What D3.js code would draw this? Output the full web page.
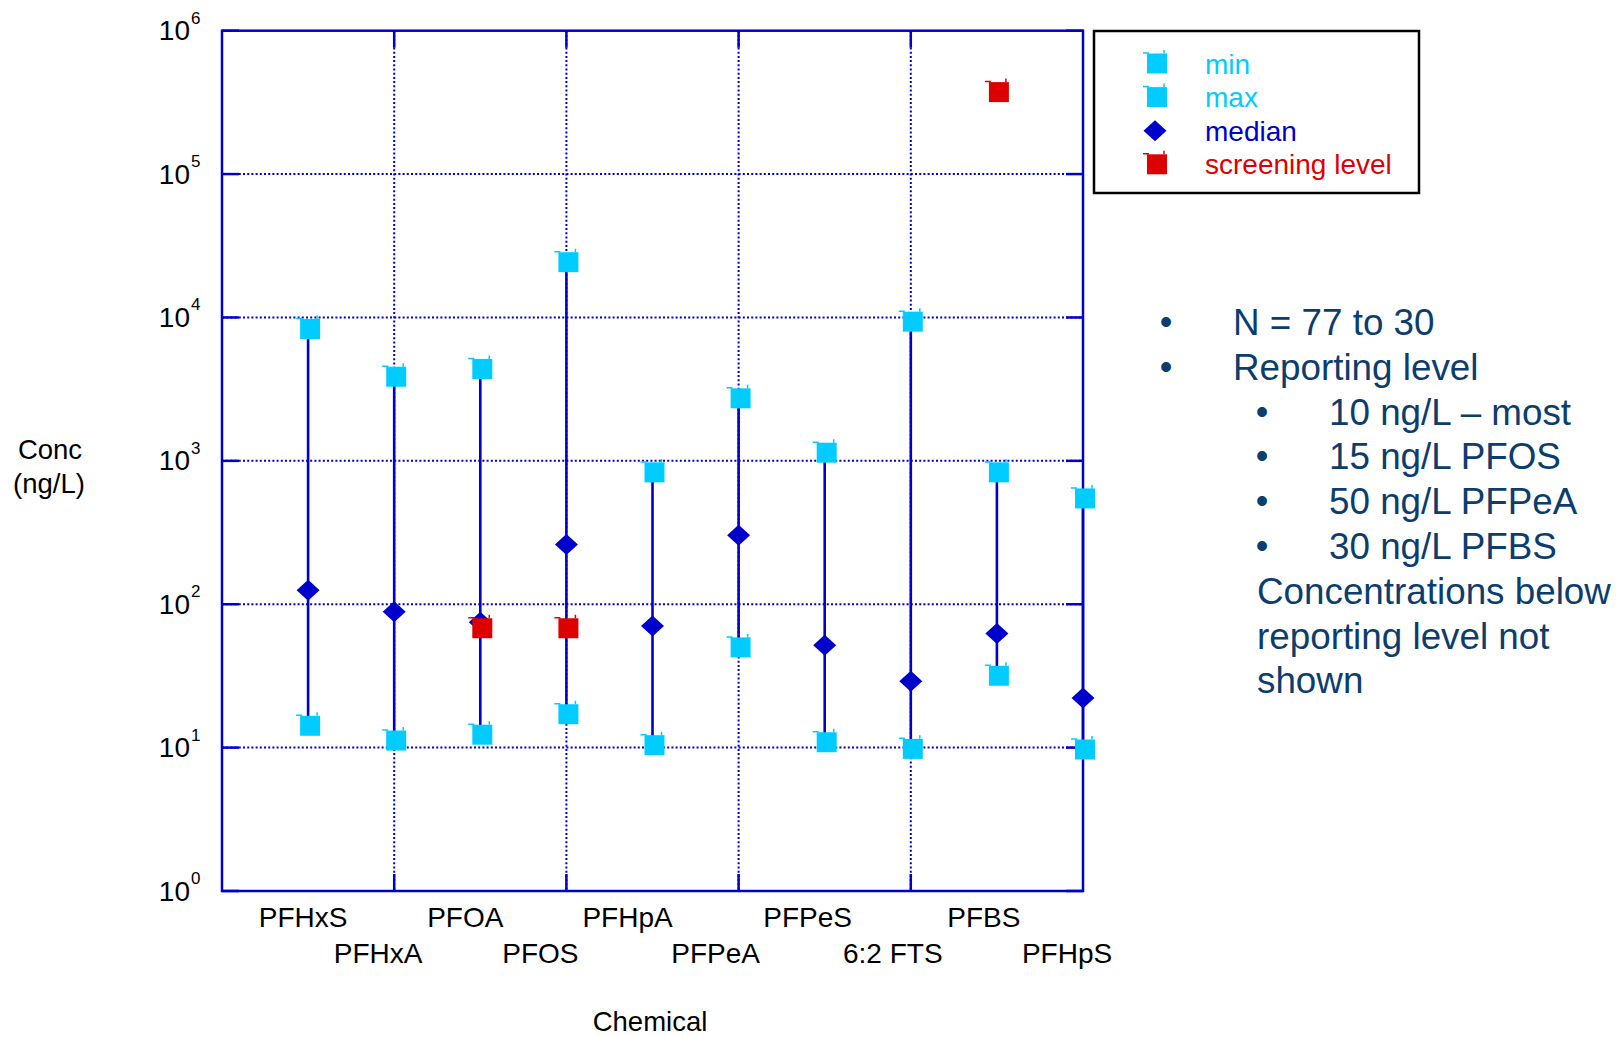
<!DOCTYPE html>
<html>
<head>
<meta charset="utf-8">
<script src="https://cdn.jsdelivr.net/npm/d3@7"></script>
<style>
  body { margin: 0; background: #fff; }
  text { font-family: 'Liberation Sans', Arial, sans-serif; }
</style>
</head>
<body>
<svg width="1618" height="1037"></svg>
<script>
const chemicals = ['PFHxS', 'PFHxA', 'PFOA', 'PFOS', 'PFHpA', 'PFPeA', 'PFPeS', '6:2 FTS', 'PFBS', 'PFHpS'];
const minValues = [14.2, 11.2, 12.3, 17.1, 10.4, 50, 10.9, 9.8, 31.7, 9.7];
const maxValues = [8310, 3860, 4370, 24300, 831, 2730, 1140, 9350, 831, 547];
const medianValues = [125, 88.5, 75, 261, 70.4, 303, 51.8, 29, 62.5, 22.2];
const screeningValues = [null, null, 68, 68, null, null, null, null, 373000, null];
const yTickValues = [1, 10, 100, 1000, 10000, 100000, 1000000];
const xGridValues = [2, 4, 6, 8];
const legendLabels = ['min', 'max', 'median', 'screening level'];
const notes = [
    { level: 0, text: 'N = 77 to 30' },
    { level: 0, text: 'Reporting level' },
    { level: 1, text: '10 ng/L \u2013 most' },
    { level: 1, text: '15 ng/L PFOS' },
    { level: 1, text: '50 ng/L PFPeA' },
    { level: 1, text: '30 ng/L PFBS' },
    { level: 2, text: 'Concentrations below' },
    { level: 2, text: 'reporting level not' },
    { level: 2, text: 'shown' }
];

const svg = d3.select('svg');
const blue = '#0000cc';
const cyan = '#00ccff';
const red = '#dd0000';

const margin = { top: 30.7, left: 222, right: 535, bottom: 146 };
const width = +svg.attr('width');
const height = +svg.attr('height');
const x0 = margin.left, x1 = width - margin.right;
const y0 = height - margin.bottom, y1 = margin.top;

const xScale = d3.scaleLinear().domain([0, 10]).range([x0, x1]);
const yScale = d3.scaleLog().domain([1, 1e6]).range([y0, y1]);

// the category labels were hand placed in the original, nudge each a bit left
const labelNudge = [-5, -16, -15, -26, -25, -23, -17, -18, -13, -16];

const g = svg.append('g');

// grid (dotted)
g.selectAll('.hgrid')
    .data(yTickValues.slice(1, -1))
    .enter().append('line')
    .attr('x1', x0).attr('x2', x1)
    .attr('y1', d => yScale(d)).attr('y2', d => yScale(d))
    .attr('stroke', blue).attr('stroke-width', 2)
    .attr('stroke-dasharray', '2,2.2');

g.selectAll('.vgrid')
    .data(xGridValues)
    .enter().append('line')
    .attr('x1', d => xScale(d)).attr('x2', d => xScale(d))
    .attr('y1', y1).attr('y2', y0)
    .attr('stroke', blue).attr('stroke-width', 2)
    .attr('stroke-dasharray', '2,2.2');

// inward ticks
const tick = 17;
yTickValues.forEach(v => {
    g.append('line').attr('x1', x0).attr('x2', x0 + tick)
        .attr('y1', yScale(v)).attr('y2', yScale(v))
        .attr('stroke', blue).attr('stroke-width', 2.5);
    g.append('line').attr('x1', x1 - tick).attr('x2', x1)
        .attr('y1', yScale(v)).attr('y2', yScale(v))
        .attr('stroke', blue).attr('stroke-width', 2.5);
});
xGridValues.forEach(v => {
    g.append('line').attr('x1', xScale(v)).attr('x2', xScale(v))
        .attr('y1', y0 - tick).attr('y2', y0)
        .attr('stroke', blue).attr('stroke-width', 2.5);
    g.append('line').attr('x1', xScale(v)).attr('x2', xScale(v))
        .attr('y1', y1).attr('y2', y1 + tick)
        .attr('stroke', blue).attr('stroke-width', 2.5);
});

// frame
g.append('rect')
    .attr('x', x0).attr('y', y1)
    .attr('width', x1 - x0).attr('height', y0 - y1)
    .attr('fill', 'none').attr('stroke', blue).attr('stroke-width', 2.5);

// y tick labels 10^n
yTickValues.forEach(v => {
    g.append('text')
        .attr('x', 190).attr('y', yScale(v) + 9.5)
        .attr('text-anchor', 'end').attr('font-size', 28).attr('fill', '#000')
        .text('10');
    g.append('text')
        .attr('x', 191).attr('y', yScale(v) - 7)
        .attr('font-size', 17).attr('fill', '#000')
        .text(Math.log10(v));
});

// x labels, staggered in two rows
chemicals.forEach((c, i) => {
    g.append('text')
        .attr('x', xScale(i + 1) + labelNudge[i])
        .attr('y', i % 2 === 0 ? 927 : 963)
        .attr('text-anchor', 'middle').attr('font-size', 28).attr('fill', '#000')
        .text(c);
});

// axis titles
g.append('text').attr('x', 650).attr('y', 1031)
    .attr('text-anchor', 'middle').attr('font-size', 27.5).text('Chemical');
g.append('text').attr('x', 50).attr('y', 459)
    .attr('text-anchor', 'middle').attr('font-size', 27.5).text('Conc');
g.append('text').attr('x', 49).attr('y', 493)
    .attr('text-anchor', 'middle').attr('font-size', 27.5).text('(ng/L)');

// whiskers min -> max
g.selectAll('.whisker')
    .data(chemicals)
    .enter().append('line')
    .attr('x1', (d, i) => xScale(i + 1)).attr('x2', (d, i) => xScale(i + 1))
    .attr('y1', (d, i) => yScale(minValues[i]))
    .attr('y2', (d, i) => yScale(maxValues[i]))
    .attr('stroke', blue).attr('stroke-width', 2.6);

// marker shapes
const squarePath = 'M-8,-10H12V10H-8Z';
const squareNub = 'M-12,-10.5L-6,-10.5M9,-10L9,-13.5';
const diamondPath = 'M0,-10.5L11.5,0L0,10.5L-11.5,0Z';

function drawSquare(sel, cx, cy, color) {
    const m = sel.append('g').attr('transform', `translate(${cx},${cy})`);
    m.append('path').attr('d', squarePath).attr('fill', color);
    m.append('path').attr('d', squareNub).attr('stroke', color).attr('stroke-width', 1.5).attr('fill', 'none');
}
function drawDiamond(sel, cx, cy, color) {
    sel.append('path').attr('d', diamondPath)
        .attr('transform', `translate(${cx},${cy})`).attr('fill', color);
}

chemicals.forEach((c, i) => drawDiamond(g, xScale(i + 1), yScale(medianValues[i]), blue));
chemicals.forEach((c, i) => drawSquare(g, xScale(i + 1), yScale(minValues[i]), cyan));
chemicals.forEach((c, i) => drawSquare(g, xScale(i + 1), yScale(maxValues[i]), cyan));
chemicals.forEach((c, i) => {
    if (screeningValues[i] != null) drawSquare(g, xScale(i + 1), yScale(screeningValues[i]), red);
});

// legend
const legend = svg.append('g');
legend.append('rect')
    .attr('x', 1094).attr('y', 31).attr('width', 325).attr('height', 162)
    .attr('fill', '#fff').attr('stroke', '#000').attr('stroke-width', 2.5);
const legendColors = [cyan, cyan, blue, red];
legendLabels.forEach((l, i) => {
    const cy = 63.5 + i * 33.6;
    if (i === 2) drawDiamond(legend, 1155, cy, legendColors[i]);
    else drawSquare(legend, 1155, cy, legendColors[i]);
    legend.append('text')
        .attr('x', 1205).attr('y', cy + 10)
        .attr('font-size', 28).attr('fill', legendColors[i])
        .text(l);
});

// notes on the right
const noteColor = '#0c3d6c';
const noteX = [1233, 1329, 1257];
const bulletX = [1166, 1262];
const notesG = svg.append('g');
notes.forEach((n, i) => {
    const y = 335 + i * 44.8;
    if (n.level < 2) {
        notesG.append('text')
            .attr('x', bulletX[n.level]).attr('y', y - 1)
            .attr('text-anchor', 'middle').attr('font-size', 36).attr('fill', noteColor)
            .text('\u2022');
    }
    notesG.append('text')
        .attr('x', noteX[n.level]).attr('y', y)
        .attr('font-size', 36.8).attr('fill', noteColor)
        .text(n.text);
});
</script>
</body>
</html>
